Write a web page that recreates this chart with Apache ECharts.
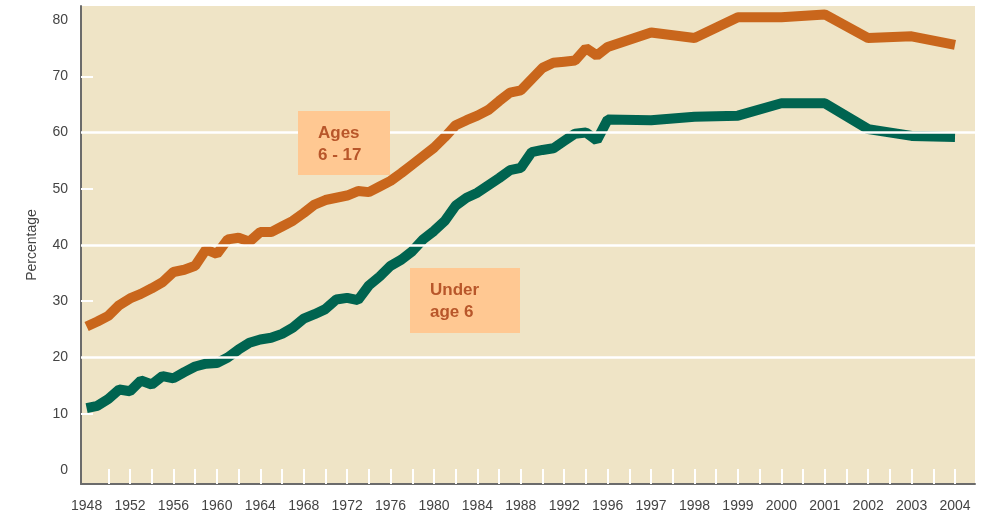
<!DOCTYPE html>
<html><head><meta charset="utf-8">
<script src="https://cdn.jsdelivr.net/npm/echarts@6/dist/echarts.min.js"></script>
<style>html,body{margin:0;padding:0;background:#fff}#c{width:987px;height:521px}</style>
</head><body><div id="c"></div>
<script>
// Years with data (yearly); the axis is compressed 4 years per label before 1996, 1 year per label after
const years = [1948,1949,1950,1951,1952,1953,1954,1955,1956,1957,1958,1959,1960,1961,1962,1963,1964,1965,1966,1967,1968,1969,1970,1971,1972,1973,1974,1975,1976,1977,1978,1979,1980,1981,1982,1983,1984,1985,1986,1987,1988,1989,1990,1991,1992,1993,1994,1995,1996,1997,1998,1999,2000,2001,2002,2003,2004];
const ages6to17 = [25.5,26.4,27.4,29.3,30.5,31.3,32.3,33.4,35.2,35.6,36.3,39.2,38.4,41.0,41.3,40.6,42.3,42.3,43.3,44.3,45.7,47.2,48.0,48.4,48.8,49.6,49.4,50.4,51.4,52.8,54.3,55.8,57.3,59.2,61.3,62.2,63.0,64.0,65.6,67.1,67.5,69.5,71.5,72.4,72.6,72.8,75.0,73.7,75.2,77.8,76.8,80.5,80.5,81.0,76.8,77.1,75.6];
const under6 = [11.0,11.4,12.6,14.3,14.0,15.9,15.2,16.7,16.3,17.4,18.4,18.9,19.0,20.0,21.4,22.6,23.2,23.5,24.2,25.3,26.9,27.7,28.6,30.3,30.6,30.2,32.8,34.4,36.3,37.4,38.9,41.0,42.5,44.3,47.0,48.4,49.3,50.6,51.9,53.3,53.7,56.5,56.9,57.2,58.5,59.8,60.0,58.6,62.3,62.2,62.8,63.0,65.2,65.2,60.6,59.4,59.2];
const tickLabels = ['1948','1952','1956','1960','1964','1968','1972','1976','1980','1984','1988','1992','1996','1997','1998','1999','2000','2001','2002','2003','2004'];
const yLabelValues = [0,10,20,30,40,50,60,70,80];
const yTickValues = [10,30,50,70];
const gridLineValues = [20,40,60];

// axis position (in label units) of a year on the original chart's irregular time axis
function axisPos(y){ return y <= 1996 ? (y - 1948) / 4 : 12 + (y - 1996); }
const labelPositions = tickLabels.map((_, i) => i);
const tickPositions = [];
for (let i = 1; i <= 40; i++) tickPositions.push(i / 2);

const FONT = '"Liberation Sans",Arial,sans-serif';
const chart = echarts.init(document.getElementById('c'));
chart.setOption({
  animation: false,
  backgroundColor: '#ffffff',
  grid: { left: 81, right: 12, top: 6, bottom: 37, backgroundColor: '#EFE4C6', show: true, borderWidth: 0 },
  xAxis: {
    type: 'value', min: -0.129, max: 20.46,
    axisLine: { show: true, onZero: false, lineStyle: { color: '#6b6b6b', width: 2 } },
    axisTick: { show: true, inside: true, length: 15, customValues: tickPositions, lineStyle: { color: '#ffffff', width: 2 } },
    axisLabel: { customValues: labelPositions, margin: 15, color: '#444', fontSize: 14, fontFamily: FONT,
      formatter: v => tickLabels[Math.round(v)] || '' },
    splitLine: { show: false }
  },
  yAxis: {
    type: 'value', min: -2.5, max: 82.5,
    name: 'Percentage', nameLocation: 'middle', nameGap: 42,
    nameTextStyle: { color: '#444', fontSize: 14, fontFamily: FONT },
    axisLine: { show: true, onZero: false, lineStyle: { color: '#6b6b6b', width: 2 } },
    axisTick: { show: true, inside: true, length: 12, customValues: yTickValues, lineStyle: { color: '#ffffff', width: 2 } },
    axisLabel: { customValues: yLabelValues, margin: 13, color: '#444', fontSize: 14, fontFamily: FONT },
    splitLine: { show: false }
  },
  series: [
    { type: 'line', data: [], z: 1, silent: true,
      markLine: { silent: true, symbol: 'none', label: { show: false },
        lineStyle: { color: '#ffffff', width: 2.5, type: 'solid' },
        data: gridLineValues.map(v => ({ yAxis: v })) } },
    { name: 'Ages 6 - 17', type: 'line', z: 3, symbol: 'none', showSymbol: false,
      lineStyle: { color: '#C9661C', width: 10 },
      data: years.map((y, i) => [axisPos(y), ages6to17[i]]) },
    { name: 'Under age 6', type: 'line', z: 3, symbol: 'none', showSymbol: false,
      lineStyle: { color: '#006450', width: 10 },
      data: years.map((y, i) => [axisPos(y), under6[i]]) }
  ],
  graphic: [
    { type: 'rect', left: 298, top: 111, shape: { width: 92, height: 64 }, style: { fill: '#FFC892' }, z: 10 },
    { type: 'text', left: 318, top: 122, z: 11,
      style: { text: 'Ages\n6 - 17', fill: '#B8562A', font: 'bold 17px "Liberation Sans", Arial, sans-serif', lineHeight: 22 } },
    { type: 'rect', left: 410, top: 268, shape: { width: 110, height: 65 }, style: { fill: '#FFC892' }, z: 10 },
    { type: 'text', left: 430, top: 279, z: 11,
      style: { text: 'Under\nage 6', fill: '#B8562A', font: 'bold 17px "Liberation Sans", Arial, sans-serif', lineHeight: 22 } }
  ]
});
</script></body></html>
